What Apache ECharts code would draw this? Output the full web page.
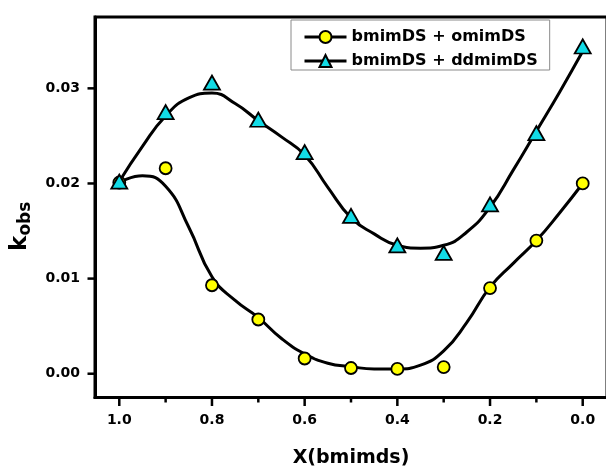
<!DOCTYPE html>
<html>
<head>
<meta charset="utf-8">
<script src="https://cdn.jsdelivr.net/npm/echarts@6/dist/echarts.min.js"></script>
<style>
  html, body { margin: 0; padding: 0; background: #fff; }
  #chart { width: 606px; height: 466px; }
</style>
</head>
<body>
<div id="chart"></div>
<script>
// Mole fraction of bmimDS in each mixture
const xValues = [1.0, 0.9, 0.8, 0.7, 0.6, 0.5, 0.4, 0.3, 0.2, 0.1, 0.0];

// Measured k_obs values
const omimValues  = [0.0201, 0.0216, 0.0093, 0.0057, 0.0016, 0.0006, 0.0005, 0.0007, 0.0090, 0.0140, 0.0200];
const ddmimValues = [0.0202, 0.0275, 0.0306, 0.0267, 0.0233, 0.0166, 0.0135, 0.0127, 0.0178, 0.0253, 0.0344];

// Fitted trend curves, sampled every 0.05 along each curve
const fitX      = [1.00, 0.95, 0.90, 0.85, 0.80, 0.75, 0.70, 0.65, 0.60, 0.55, 0.50, 0.45, 0.40, 0.35, 0.30, 0.25, 0.20, 0.15, 0.10, 0.05, 0.00];
const omimFitY  = [0.0201, 0.0208, 0.0197, 0.0154, 0.0102, 0.0077, 0.0059, 0.0037, 0.0021, 0.0011, 0.00074, 0.0005, 0.0005, 0.0009, 0.0024, 0.0054, 0.0091, 0.0116, 0.0140, 0.0169, 0.0200];
const ddmimFitY = [0.0202, 0.0239, 0.0271, 0.0290, 0.0295, 0.0284, 0.0266, 0.0249, 0.0230, 0.0196, 0.0164, 0.0147, 0.0135, 0.0132, 0.0135, 0.0149, 0.0175, 0.0214, 0.0255, 0.0296, 0.0339];

// Axis ticks
const xMajorTicks = [0.0, 0.2, 0.4, 0.6, 0.8, 1.0];
const xMinorTicks = [0.1, 0.3, 0.5, 0.7, 0.9];
const yTicks = [0.00, 0.01, 0.02, 0.03];

const seriesNames = ['bmimDS + omimDS', 'bmimDS + ddmimDS'];

const FONT = 'DejaVu Sans';
const zip = (a, b) => a.map((v, i) => [v, b[i]]);

const chart = echarts.init(document.getElementById('chart'), null, { renderer: 'canvas' });

const xRange = { min: -0.0524, max: 1.0524 };
const yRange = { min: -0.0025, max: 0.0375 };
const frameLine = () => ({ show: true, onZero: false, lineStyle: { color: '#000', width: 3 } });

chart.setOption({
  animation: false,
  textStyle: { fontFamily: FONT },
  grid: {
    left: 95, top: 17, width: 512, height: 380.5,
    outerBoundsMode: 'none', containLabel: false,
    show: true, borderColor: '#000', borderWidth: 3
  },
  legend: {
    data: seriesNames,
    orient: 'vertical',
    left: 291, top: 20,
    padding: [9, 12, 1, 12],
    itemGap: 8,
    itemWidth: 42,
    itemHeight: 15,
    borderColor: '#8a8a8a',
    borderWidth: 1,
    backgroundColor: '#fff',
    selectedMode: false,
    lineStyle: { color: '#000', width: 3, opacity: 1 },
    textStyle: { fontFamily: FONT, fontWeight: 'bold', fontSize: 16, color: '#000' }
  },
  xAxis: {
    type: 'value', inverse: true, min: xRange.min, max: xRange.max,
    name: 'X(bmimds)', nameLocation: 'middle', nameGap: 51,
    nameTextStyle: { fontFamily: FONT, fontWeight: 'bold', fontSize: 19, color: '#000' },
    axisLine: frameLine(),
    splitLine: { show: false },
    axisTick: { show: false },
    axisLabel: { show: true, margin: 16, customValues: xMajorTicks,
                 formatter: v => v.toFixed(1),
                 fontFamily: FONT, fontWeight: 'bold', fontSize: 14, color: '#000' }
  },
  yAxis: {
    type: 'value', min: yRange.min, max: yRange.max,
    name: '{k|k}{s|obs}', nameLocation: 'middle', nameGap: 50,
    nameTextStyle: {
      padding: [0, 38, 0, 0],
      rich: {
        k: { fontFamily: FONT, fontWeight: 'bold', fontSize: 23, color: '#000', lineHeight: 30 },
        s: { fontFamily: FONT, fontWeight: 'bold', fontSize: 17, color: '#000', lineHeight: 14, verticalAlign: 'bottom' }
      }
    },
    axisLine: frameLine(),
    splitLine: { show: false },
    axisTick: { show: false },
    axisLabel: { show: true, margin: 15, customValues: yTicks,
                 formatter: v => v.toFixed(2),
                 fontFamily: FONT, fontWeight: 'bold', fontSize: 14, color: '#000' }
  },
  series: [
    {
      name: 'omimFit', type: 'line', z: 2, symbol: 'none', smooth: 0.5,
      data: zip(fitX, omimFitY),
      lineStyle: { color: '#000', width: 3 },
      silent: true
    },
    {
      name: 'ddmimFit', type: 'line', z: 2, symbol: 'none', smooth: 0.5,
      data: zip(fitX, ddmimFitY),
      lineStyle: { color: '#000', width: 3 },
      silent: true
    },
    {
      name: seriesNames[0], type: 'line', z: 4,
      data: zip(xValues, omimValues),
      symbol: 'circle', symbolSize: 12, showSymbol: true,
      lineStyle: { width: 0, opacity: 0 },
      itemStyle: { color: '#ffff00', borderColor: '#000', borderWidth: 1.8 },
      emphasis: { disabled: true }
    },
    {
      name: seriesNames[1], type: 'line', z: 5,
      data: zip(xValues, ddmimValues),
      symbol: 'triangle', symbolSize: [16, 14], showSymbol: true,
      lineStyle: { width: 0, opacity: 0 },
      itemStyle: { color: '#12dbe6', borderColor: '#000', borderWidth: 1.8 },
      emphasis: { disabled: true }
    }
  ]
});

// Outward tick marks on the frame, placed through the axis scales
function tickMark(x1, y1, x2, y2) {
  return { type: 'line', silent: true, zlevel: 1, z: 10,
           shape: { x1, y1, x2, y2 },
           style: { stroke: '#000', lineWidth: 2.5 } };
}
function drawTicks() {
  const yEdge = chart.convertToPixel({ yAxisIndex: 0 }, yRange.min);
  const xEdge = chart.convertToPixel({ xAxisIndex: 0 }, xRange.max);
  const els = [];
  xMajorTicks.forEach(v => {
    const px = chart.convertToPixel({ xAxisIndex: 0 }, v);
    els.push(tickMark(px, yEdge, px, yEdge + 8.5));
  });
  xMinorTicks.forEach(v => {
    const px = chart.convertToPixel({ xAxisIndex: 0 }, v);
    els.push(tickMark(px, yEdge, px, yEdge + 5));
  });
  yTicks.forEach(v => {
    const py = chart.convertToPixel({ yAxisIndex: 0 }, v);
    els.push(tickMark(xEdge - 7.5, py, xEdge, py));
  });
  chart.setOption({ graphic: { elements: els } });
}
drawTicks();
</script>
</body>
</html>
